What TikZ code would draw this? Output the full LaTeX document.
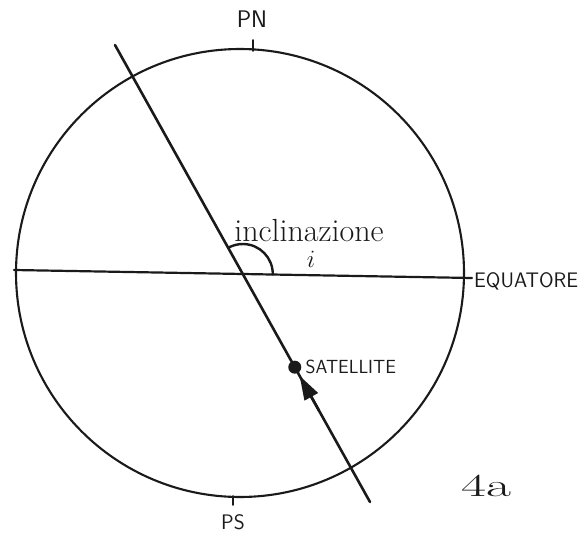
\documentclass[tikz,border=0pt]{standalone}
\usepackage{tikz}
\usetikzlibrary{arrows.meta,positioning,calc}
\definecolor{inkblack}{HTML}{1A1A1A}
\tikzset{
  tratto/.style={inkblack,line width=2.6pt,line cap=round},
  etich/.style={inkblack,inner sep=0pt,font=\sffamily\fontsize{19}{19}\selectfont},
}

\begin{document}
\begin{tikzpicture}[x=1pt,y=-1pt]
        \useasboundingbox (0,0) rectangle (584,543);
        \coordinate (centro) at (240,273);
        \draw[inkblack,line width=2.1pt] (centro) circle (224);
        \coordinate (eq-w) at (14,270);
        \coordinate (eq-e) at (472,278);
        \coordinate (incl-n) at (115,45);
        \coordinate (incl-s) at (370,502);
        \draw[tratto,line width=2.2pt] (eq-w) -- (eq-e);
        \draw[tratto] (incl-n) -- (incl-s);
        \coordinate (nodo) at (intersection of incl-n--incl-s and eq-w--eq-e);
        \draw[tratto,line width=2.4pt] ([shift={(1:30)}]nodo) arc[start angle=1,end angle=-119,radius=30];
        % poli
        \coordinate (pn) at (253,51);
        \coordinate (ps) at (233,496);
        \draw[tratto,line width=1.8pt] (pn) -- ++(0,-11);
        \draw[tratto,line width=1.8pt] (ps) -- ++(0,9);
        \node[etich,font=\sffamily\fontsize{24}{24}\selectfont] (pn-lab) at (252,19) {PN};
        \node[etich,font=\sffamily\fontsize{21}{21}\selectfont] (ps-lab) at (233,522) {PS};
        \node[etich,anchor=west,font=\sffamily\fontsize{21}{21}\selectfont] (equatore) at (474,281) {EQUATORE};
        \node[inkblack,inner sep=0pt,font=\fontsize{32}{32}\selectfont] (inclinazione) at (309,231) {inclinazione};
        \node[inkblack,inner sep=0pt,font=\fontsize{30}{30}\selectfont] (ang-i) at (311,259) {$i$};
        % satellite
        \node[circle,fill=inkblack,inner sep=0pt,minimum size=13pt] (satellite) at ($(incl-s)!0.295!(incl-n)$) {};
        \node[etich,right=4pt of satellite] (sat-lab) {SATELLITE};
        \draw[tratto,-{Triangle[length=24pt,width=15pt]}] ($(incl-s)!0.2!(incl-n)$) -- ($(incl-s)!0.276!(incl-n)$);
        \node[inkblack,inner sep=0pt,font=\fontsize{32}{32}\selectfont] (fig) at (486,486) {\scalebox{1.7}[1]{4a}};
      \end{tikzpicture}
\end{document}
